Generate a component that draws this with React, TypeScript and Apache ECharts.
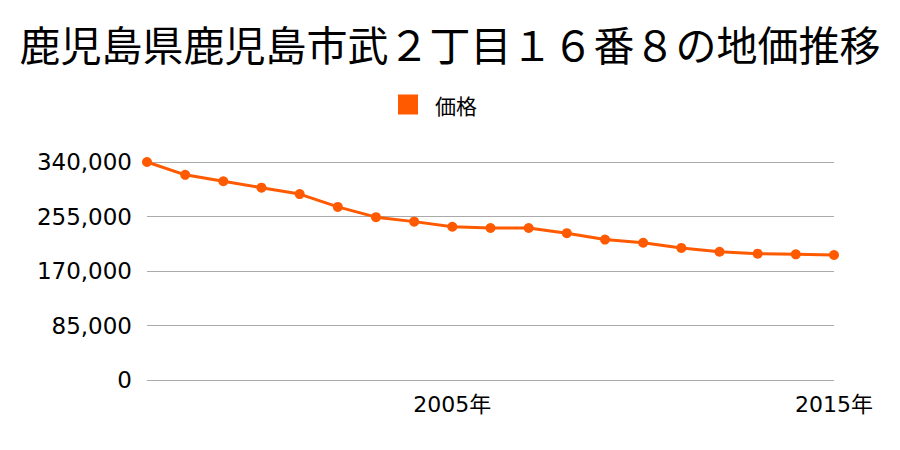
import React, { useEffect, useRef } from "react";
import * as echarts from "echarts";

const titleText = "鹿児島県鹿児島市武２丁目１６番８の地価推移";
const seriesName = "価格";
const years = [
  "1997", "1998", "1999", "2000", "2001", "2002", "2003", "2004", "2005", "2006",
  "2007", "2008", "2009", "2010", "2011", "2012", "2013", "2014", "2015",
];
const prices = [
  340000, 320000, 310000, 300000, 290000, 270000, 254000, 247000, 239000, 237000,
  237000, 229000, 219000, 214000, 206000, 200000, 197000, 196000, 195000,
];
const labeledYears = ["2005", "2015"];
const yMax = 340000;
const yInterval = 85000;

export default function App() {
  const ref = useRef<HTMLDivElement>(null);
  useEffect(() => {
    if (!ref.current) return;
    const chart = echarts.init(ref.current, undefined, { renderer: "svg" });
    const font = "'Noto Sans CJK JP', 'Noto Sans', sans-serif";
    const numFont = "'DejaVu Sans', 'Noto Sans CJK JP', sans-serif";
    chart.setOption({
      animation: false,
      backgroundColor: "#ffffff",
      title: {
        text: titleText,
        left: "center",
        top: 17,
        textStyle: { fontSize: 41, fontWeight: "normal", color: "#000", fontFamily: font },
      },
      legend: {
        data: [seriesName],
        top: 89,
        left: 393,
        icon: "rect",
        itemWidth: 20,
        itemHeight: 20,
        itemGap: 10,
        textStyle: { fontSize: 21, color: "#000", fontFamily: font, padding: [0, 0, 0, 12] },
      },
      grid: { left: 147, right: 66, top: 162, bottom: 70, containLabel: false },
      xAxis: {
        type: "category",
        data: years,
        boundaryGap: false,
        axisLine: { show: false },
        axisTick: { show: false },
        axisLabel: {
          interval: 0,
          formatter: (v: string) => (labeledYears.includes(v) ? v + "年" : ""),
          fontSize: 22,
          color: "#000",
          margin: 13,
          fontFamily: numFont,
        },
      },
      yAxis: {
        type: "value",
        min: 0,
        max: yMax,
        interval: yInterval,
        axisLine: { show: false },
        axisTick: { show: false },
        splitLine: { lineStyle: { color: "#aaaaaa", width: 1 } },
        axisLabel: {
          fontSize: 23,
          color: "#000",
          margin: 15,
          fontFamily: numFont,
          formatter: (v: number) => v.toLocaleString("en-US"),
        },
      },
      series: [
        {
          name: seriesName,
          type: "line",
          data: prices,
          color: "#ff5a00",
          symbol: "circle",
          symbolSize: 10,
          lineStyle: { width: 3, color: "#ff5a00" },
          itemStyle: { color: "#ff5a00" },
        },
      ],
    });
    return () => chart.dispose();
  }, []);
  return <div ref={ref} style={{ width: 900, height: 450, position: "absolute", left: 0, top: 0 }} />;
}
